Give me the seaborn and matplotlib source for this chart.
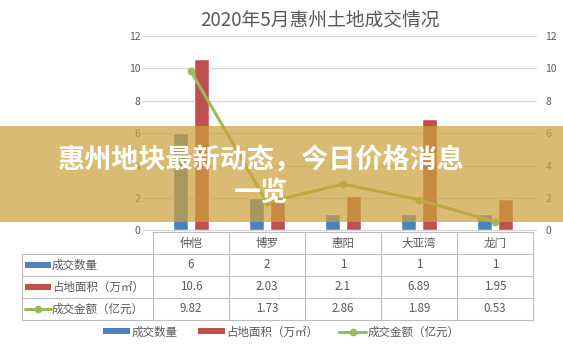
import matplotlib
matplotlib.use("Agg")
import matplotlib.pyplot as plt
import seaborn as sns
import pandas as pd
import numpy as np
from matplotlib.patches import Rectangle
from matplotlib.lines import Line2D

sns.set_style("white")
plt.rcParams['font.family'] = ['Noto Sans CJK SC', 'DejaVu Sans']

# ---- data ----
title = "2020年5月惠州土地成交情况"
categories = ["仲恺", "博罗", "惠阳", "大亚湾", "龙门"]
count_label = "成交数量"
area_label = "占地面积（万㎡）"
amount_label = "成交金额（亿元）"
counts = [6, 2, 1, 1, 1]
areas = [10.6, 2.03, 2.1, 6.89, 1.95]
amounts = [9.82, 1.73, 2.86, 1.89, 0.53]
count_text = ["6", "2", "1", "1", "1"]
area_text = ["10.6", "2.03", "2.1", "6.89", "1.95"]
amount_text = ["9.82", "1.73", "2.86", "1.89", "0.53"]
yticks = [0, 2, 4, 6, 8, 10, 12]
banner_lines = ["惠州地块最新动态，今日价格消息", "一览"]

BLUE = "#4F81BD"
RED = "#C0504D"
GREEN = "#9BBB59"
GRAY = "#595959"
GRID = "#D9D9D9"

W, H = 563, 349
fig = plt.figure(figsize=(W / 100, H / 100), dpi=100)

def fx(px):
    return px / W

def fy(py):
    return 1 - py / H

left, right = 153, 533
top, zero = 36, 230.4
ax = fig.add_axes([fx(left), fy(zero), (right - left) / W, (zero - top) / H])

df = pd.DataFrame({
    "cat": categories * 2,
    "series": [count_label] * len(categories) + [area_label] * len(categories),
    "value": counts + areas,
})
sns.barplot(data=df, x="cat", y="value", hue="series", order=categories,
            hue_order=[count_label, area_label], palette=[BLUE, RED],
            width=0.55, gap=0.24, ax=ax, legend=False, zorder=3, saturation=1)

ax.set_xlim(-0.5, len(categories) - 0.5)
ax.set_ylim(0, 12)
ax.set_yticks(yticks)
ax.set_xticks([])
ax.set_xlabel("")
ax.set_ylabel("")
for s in ax.spines.values():
    s.set_visible(False)
ax.tick_params(axis='y', length=0, pad=9, labelsize=7.5, labelcolor=GRAY)
for t in yticks:
    ax.axhline(t, xmin=-0.03, xmax=1.008, color=GRID, lw=0.9, clip_on=False, zorder=0)

ax2 = ax.twinx()
sns.pointplot(x=categories, y=amounts, ax=ax2, color=GREEN, markers='o',
              linewidth=2.2, markersize=4, order=categories)
ax2.set_xlim(-0.5, len(categories) - 0.5)
ax2.set_ylim(0, 12)
ax2.set_yticks(yticks)
ax2.set_ylabel("")
for s in ax2.spines.values():
    s.set_visible(False)
ax2.tick_params(axis='y', length=0, pad=9, labelsize=7.5, labelcolor=GRAY)

# title
fig.text(fx(320), fy(20), title, ha='center', va='center', fontsize=13.5, color=GRAY)

# ---- data table ----
col_w = (right - left) / len(categories)
row_tops = [232, 254, 276, 298, 320]
tleft = 22
lw = 0.8
tc = "#BFBFBF"
def hline(y, x0, x1):
    fig.add_artist(Line2D([fx(x0), fx(x1)], [fy(y), fy(y)], color=tc, lw=lw))
def vline(x, y0, y1):
    fig.add_artist(Line2D([fx(x), fx(x)], [fy(y0), fy(y1)], color=tc, lw=lw))

hline(row_tops[0], left, right)
for y in row_tops[1:]:
    hline(y, tleft, right)
vline(tleft, row_tops[1], row_tops[-1])
for i in range(len(categories) + 1):
    vline(left + i * col_w, row_tops[0], row_tops[-1])

fs = 8.3
for i, c in enumerate(categories):
    cx = left + (i + 0.5) * col_w
    fig.text(fx(cx), fy((row_tops[0] + row_tops[1]) / 2), c, ha='center', va='center', fontsize=fs, color=GRAY)
    for r, vals in enumerate([count_text, area_text, amount_text]):
        cy = (row_tops[r + 1] + row_tops[r + 2]) / 2
        fig.text(fx(cx), fy(cy), vals[i], ha='center', va='center', fontsize=fs, color=GRAY)

row_labels = [count_label, area_label, amount_label]
for r, lab in enumerate(row_labels):
    cy = (row_tops[r + 1] + row_tops[r + 2]) / 2
    if r < 2:
        fig.add_artist(Rectangle((fx(25), fy(cy + 3)), (51 - 25) / W, 6 / H,
                                 color=[BLUE, RED][r], lw=0))
    else:
        fig.add_artist(Line2D([fx(25), fx(51)], [fy(cy), fy(cy)], color=GREEN, lw=2.2,
                              marker='o', markevery=[], markersize=4))
        fig.add_artist(Line2D([fx(38)], [fy(cy)], color=GREEN, marker='o', markersize=4.5, lw=0))
    fig.text(fx(52), fy(cy), lab, ha='left', va='center', fontsize=fs, color=GRAY)

# ---- legend ----
handles = [
    Rectangle((0, 0), 1, 1, color=BLUE, lw=0),
    Rectangle((0, 0), 1, 1, color=RED, lw=0),
    Line2D([], [], color=GREEN, lw=2.2, marker='o', markersize=4.5),
]
leg = fig.legend(handles, row_labels, loc='center', bbox_to_anchor=(0.5, fy(332)),
                 ncol=3, frameon=False, fontsize=fs, handlelength=2.3, handleheight=0.45,
                 handletextpad=0.15, columnspacing=1.8, labelcolor=GRAY)

# ---- banner overlay ----
fig.add_artist(Rectangle((0, fy(222)), 1, (222 - 126) / H, facecolor=(0.80, 0.63, 0.24),
                         alpha=0.72, lw=0, zorder=10))
fig.text(fx(261), fy(160), banner_lines[0], ha='center', va='center', fontsize=19.5,
         color='white', fontweight='bold', zorder=11)
fig.text(fx(261), fy(193), banner_lines[1], ha='center', va='center', fontsize=19.5,
         color='white', fontweight='bold', zorder=11)

fig.savefig("out.png", dpi=100)
